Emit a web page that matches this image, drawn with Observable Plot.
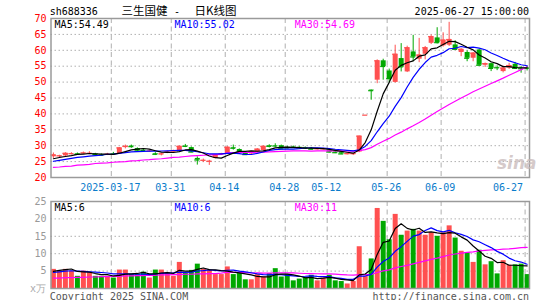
<!DOCTYPE html>
<html><head><meta charset="utf-8">
<script src="https://cdn.jsdelivr.net/npm/d3@7"></script>
<script src="https://cdn.jsdelivr.net/npm/@observablehq/plot@0.6"></script>
<style>
html,body{margin:0;padding:0;background:#fff;}
#wrap{position:relative;width:545px;height:300px;overflow:hidden;font-family:"DejaVu Sans Mono",monospace;font-size:10px;color:#000;}
.t{position:absolute;white-space:pre;line-height:1;}
.cjk{font-family:"Noto Sans CJK SC",sans-serif;font-size:11.5px;}
#price,#vol{position:absolute;left:0;}
#price{top:0}
#vol{top:195px}
</style></head><body>
<div id="wrap">
  <div id="price"></div>
  <div id="vol"></div>
  <div id="overlay"></div>
</div>
<script>
// ---------- data ----------
const dates = ["2025-03-03","2025-03-04","2025-03-05","2025-03-06","2025-03-07","2025-03-10","2025-03-11","2025-03-12","2025-03-13","2025-03-14",
"2025-03-17","2025-03-18","2025-03-19","2025-03-20","2025-03-21","2025-03-24","2025-03-25","2025-03-26","2025-03-27","2025-03-28",
"2025-03-31","2025-04-01","2025-04-02","2025-04-03","2025-04-07","2025-04-08","2025-04-09","2025-04-10","2025-04-11","2025-04-14",
"2025-04-15","2025-04-16","2025-04-17","2025-04-18","2025-04-21","2025-04-22","2025-04-23","2025-04-24","2025-04-25","2025-04-28",
"2025-04-29","2025-04-30","2025-05-06","2025-05-07","2025-05-08","2025-05-09","2025-05-12","2025-05-13","2025-05-14","2025-05-15",
"2025-05-16","2025-05-19","2025-05-20","2025-05-21","2025-05-22","2025-05-23","2025-05-26","2025-05-27","2025-05-28","2025-05-29",
"2025-05-30","2025-06-03","2025-06-04","2025-06-05","2025-06-06","2025-06-09","2025-06-10","2025-06-11","2025-06-12","2025-06-13",
"2025-06-16","2025-06-17","2025-06-18","2025-06-19","2025-06-20","2025-06-23","2025-06-24","2025-06-25","2025-06-26","2025-06-27"];

const open = [26.5,26.6,26.8,27.4,27.5,27.5,27.5,27.4,27.1,27.0,
27.5,27.5,29.4,29.9,29.1,28.6,28.2,27.5,27.2,27.8,
28.1,28.3,29.9,29.4,26.0,25.2,24.9,26.0,27.2,27.5,
29.4,28.8,27.8,27.4,28.0,28.5,30.0,30.0,30.0,29.5,
29.6,29.5,29.4,29.2,28.8,28.8,28.4,28.0,27.8,27.2,
27.2,28.0,39.6,47.5,50.6,56.7,53.5,49.9,57.4,53.2,
59.5,57.2,58.75,62.2,63.9,61.4,61.6,61.7,59.3,59.3,
57.5,60.1,55.3,55.8,54.6,53.3,54.4,55.6,54.4,54.5];

const high = [27.7,27.0,27.8,27.8,27.7,28.0,28.1,27.6,27.4,27.6,
27.9,29.4,30.2,30.2,29.3,28.9,28.6,27.8,27.6,28.3,
28.6,29.9,30.4,29.6,26.5,25.8,25.4,27.2,27.6,29.7,
30.2,29.0,28.0,28.2,29.1,29.9,30.3,30.6,30.2,29.8,
29.9,29.7,29.6,29.4,29.2,29.2,28.6,28.2,27.9,27.7,
27.6,33.0,39.6,47.5,57.0,57.2,54.1,61.6,62.1,61.3,
64.7,63.75,61.2,64.8,67.1,65.5,68.8,63.0,60.5,59.8,
59.3,60.3,56.0,56.0,55.1,55.0,55.9,56.2,54.9,55.0];

const low = [26.0,26.3,26.6,27.1,27.0,27.3,27.2,26.8,26.7,26.9,
27.1,27.3,29.0,29.2,28.2,28.2,27.9,26.9,26.8,27.5,
27.7,28.1,29.4,27.8,23.9,24.7,23.8,25.9,26.9,27.3,
28.6,27.8,27.0,27.2,27.8,28.3,29.3,29.4,28.9,29.0,
29.2,29.1,28.9,28.7,28.6,28.6,27.7,27.5,27.2,27.1,
26.9,27.8,39.6,44.3,49.5,50.6,49.7,49.7,53.2,53.0,
56.4,56.1,57.0,61.8,62.0,61.0,61.2,60.0,58.0,56.4,
56.4,55.1,54.6,53.3,53.6,52.9,54.0,54.0,52.8,53.5];

const close = [27.1,26.8,27.6,27.5,27.3,27.7,27.6,27.2,27.0,27.3,
27.4,29.3,29.8,29.7,28.3,28.5,28.3,27.3,27.4,28.0,
28.3,29.8,29.8,28.0,25.5,25.4,25.1,27.1,27.4,29.5,
29.2,27.9,27.2,28.1,28.9,29.8,29.8,29.9,29.0,29.3,
29.4,29.3,29.2,28.9,29.0,29.0,28.0,27.8,27.4,27.5,
27.5,33.0,39.6,47.3,56.7,54.9,51.1,58.75,54.8,60.8,
57.9,58.5,60.8,64.3,62.4,63.2,63.4,60.3,60.3,57.5,
59.1,55.3,55.8,54.3,54.5,54.4,55.2,54.3,54.2,54.35];

// volume, 万手
const volume = [5.5,5,5.5,5,3.5,5,4.5,3.5,3.5,3.5,
3,5.3,5.3,4,4,4.7,3,5.3,5.3,4.5,
3.5,7.5,4.3,5.2,7,5.5,5.2,4,4,6.2,
4,4.3,2.5,2.5,4,3.3,4.3,5.7,3.3,4,
2.2,2.7,3.2,3.8,2.2,3,3.8,2.2,2,1.3,
2,12,3.5,8.5,23,19.3,14,21.3,15.3,16.5,
17,16.5,15.3,16,15,16,18,14.5,10.7,10.3,
7.5,11,6.8,7.7,4.2,8,6.7,6.8,7,4];

const ma5Head  = [25.9,26.3,26.6,26.9];
const ma10Head = [25.1,25.4,25.7,26.0,26.3,26.5,26.7,26.9,27.0];
const ma30Head = [23.2,23.3,23.5,23.6,23.9,24.0,24.1,24.4,24.5,24.6,
24.8,24.9,25.0,25.2,25.3,25.5,25.6,25.8,25.9,26.1,
26.3,26.4,26.6,26.8,26.9,27.0,27.1,27.2,27.3];
const vma5Head  = [4.9,5.2,5.4,5.6];
const vma10Head = [4.6,4.8,5.0,5.1,5.0,4.9,4.8,4.7,4.6];
const vma30Head = [3.0,3.0,3.1,3.1,3.2,3.2,3.3,3.3,3.4,3.4,
3.5,3.5,3.6,3.6,3.7,3.7,3.8,3.8,3.9,3.9,
4.0,4.0,4.1,4.1,4.2,4.2,4.3,4.3,4.4];

const tickDates  = ["2025-03-17","2025-03-31","2025-04-14","2025-04-28","2025-05-12","2025-05-26","2025-06-09","2025-06-27"];
const tickLabels = ["2025-03-17","03-31","04-14","04-28","05-12","05-26","06-09","06-27"];
const priceTicks = [20,25,30,35,40,45,50,55,60,65,70];
const volTicks = [5,10,15,20,25];
const priceMaLabels = ["MA5:54.49","MA10:55.02","MA30:54.69"];
const volMaLabels = ["MA5:6","MA10:6","MA30:11"];
const maColors = ["#000000","#0000ff","#ff00ff"];

// ---------- build ----------
const RED = "#ff5050", GREEN = "#00a800";
function ma(arr, n, head) {
  return arr.map((_, i) => i < n - 1 ? head[i] : d3.mean(arr.slice(i - n + 1, i + 1)));
}
const ma5 = ma(close, 5, ma5Head), ma10 = ma(close, 10, ma10Head), ma30 = ma(close, 30, ma30Head);
const vma5 = ma(volume, 5, vma5Head), vma10 = ma(volume, 10, vma10Head), vma30 = ma(volume, 30, vma30Head);

const data = dates.map((d, i) => ({
  i, d, o: open[i], h: high[i], l: low[i], c: close[i], v: volume[i],
  ma5: ma5[i], ma10: ma10[i], ma30: ma30[i], vma5: vma5[i], vma10: vma10[i], vma30: vma30[i],
  col: close[i] >= open[i] ? RED : GREEN
}));
const N = data.length;
const xDomain = [-0.4, N - 0.6];
const tickIdx = tickDates.map(t => dates.indexOf(t));
const tickRows = tickIdx.map((x, k) => ({x, label: tickLabels[k]}));

const font = {fontFamily: '"DejaVu Sans Mono", monospace', fontSize: "10px", background: "transparent", overflow: "visible"};
const gridDot = {stroke: "#b0b0b0", strokeDasharray: "1.5,2.5", strokeWidth: 1};
const gridDash = {stroke: "#bdbdbd", strokeDasharray: "5,3.5", strokeWidth: 1.2};

const pricePlot = Plot.plot({
  width: 545, height: 195,
  marginLeft: 50.5, marginRight: 16, marginTop: 18, marginBottom: 18,
  style: font,
  x: {domain: xDomain, axis: null},
  y: {domain: [20, 70], axis: null},
  marks: [
    Plot.ruleY(priceTicks.slice(1, -1), gridDot),
    Plot.ruleX(tickIdx, {...gridDash, dx: -2}),
    Plot.ruleX(data, {x: "i", y1: "l", y2: "h", stroke: "col", strokeWidth: 1}),
    Plot.ruleX(data, {x: "i", y1: "o", y2: "c", stroke: "col", strokeWidth: 5}),
    Plot.ruleY(data, {y: "c", x1: d => d.i - 0.42, x2: d => d.i + 0.42, stroke: "col", strokeWidth: 1.2}),
    Plot.line(data, {x: "i", y: "ma30", stroke: maColors[2], strokeWidth: 1.2}),
    Plot.line(data, {x: "i", y: "ma10", stroke: maColors[1], strokeWidth: 1.2}),
    Plot.line(data, {x: "i", y: "ma5", stroke: maColors[0], strokeWidth: 1.2}),
    Plot.axisY({ticks: priceTicks, tickSize: 0, tickPadding: 4.5, fill: "#ff0000", label: null}),
    Plot.text(tickRows.slice(0, -1), {x: "x", text: "label", frameAnchor: "bottom", dy: 10, dx: -3, fill: "#0a7ccb", lineAnchor: "middle"}),
    Plot.text(tickRows.slice(-1), {x: "x", text: "label", frameAnchor: "bottom", dy: 10, dx: -4, textAnchor: "end", fill: "#0a7ccb", lineAnchor: "middle"}),
    Plot.frame({stroke: "#9a9a9a", strokeWidth: 1.5})
  ]
});
document.getElementById("price").append(pricePlot);

const volPlot = Plot.plot({
  width: 545, height: 105,
  marginLeft: 50.5, marginRight: 16, marginTop: 6, marginBottom: 12,
  style: font,
  x: {domain: xDomain, axis: null},
  y: {domain: [0, 25], axis: null},
  marks: [
    Plot.ruleY(volTicks.slice(0, -1), gridDot),
    Plot.ruleX(tickIdx, {...gridDash, dx: -2}),
    Plot.ruleX(data, {x: "i", y1: 0, y2: "v", stroke: "col", strokeWidth: 5}),
    Plot.line(data, {x: "i", y: "vma30", stroke: maColors[2], strokeWidth: 1.2}),
    Plot.line(data, {x: "i", y: "vma10", stroke: maColors[1], strokeWidth: 1.2}),
    Plot.line(data, {x: "i", y: "vma5", stroke: maColors[0], strokeWidth: 1.2}),
    Plot.axisY({ticks: volTicks, tickSize: 0, tickPadding: 4.5, fill: "#999", label: null}),
    Plot.frame({stroke: "#9a9a9a", strokeWidth: 1.5})
  ]
});
document.getElementById("vol").append(volPlot);

// ---------- text overlay ----------
const ov = document.getElementById("overlay");
function addText(txt, left, top, style = "", cls = "t") {
  const el = document.createElement("div");
  el.className = cls;
  el.textContent = txt;
  el.style.cssText = `left:${left}px;top:${top}px;${style}`;
  ov.append(el);
  return el;
}
addText("sh688336", 49.7, 6.5);
addText("三生国健", 121.5, 4.5, "", "t cjk");
addText("-", 174, 6.5);
addText("日K线图", 194.5, 4.5, "", "t cjk");
const dt = addText("2025-06-27 15:00:00", 0, 6.5);
dt.style.left = ""; dt.style.right = (545 - 529) + "px";
const maX = [54.6, 174.5, 294.8];
priceMaLabels.forEach((s, k) => addText(s, maX[k], 19.5, `color:${maColors[k]}`));
volMaLabels.forEach((s, k) => addText(s, maX[k], 202.5, `color:${maColors[k]}`));
addText("x万", 30, 284, "color:#aaa");
addText("Copyright 2025 SINA.COM", 49.7, 291.5, "color:#555");
const url = addText("http://finance.sina.com.cn", 0, 291.5, "color:#555");
url.style.left = ""; url.style.right = (545 - 529) + "px";
addText("sina", 497, 155, "font-family:'DejaVu Sans',sans-serif;font-size:17px;font-style:italic;font-weight:bold;color:rgba(200,185,185,0.75)");
</script>
</body></html>
